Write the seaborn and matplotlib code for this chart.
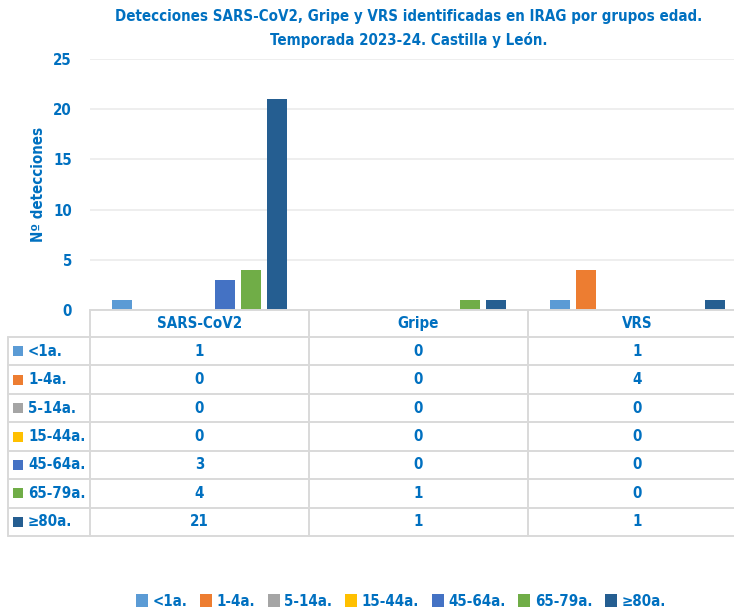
import matplotlib
matplotlib.use("Agg")
import matplotlib.pyplot as plt
import matplotlib.transforms as mtransforms
from matplotlib.patches import Rectangle
import pandas as pd
import seaborn as sns

sns.set_style("white")
plt.rcParams['font.family'] = ['Liberation Sans Narrow', 'DejaVu Sans']
plt.rcParams['font.stretch'] = 'condensed'
plt.rcParams['font.weight'] = 'bold'

# datos
virus = ['SARS-CoV2', 'Gripe', 'VRS']
grupos = ['<1a.', '1-4a.', '5-14a.', '15-44a.', '45-64a.', '65-79a.', '≥80a.']
sars = [1, 0, 0, 0, 3, 4, 21]
gripe = [0, 0, 0, 0, 0, 1, 1]
vrs = [1, 4, 0, 0, 0, 0, 1]
colores = ['#5B9BD5', '#ED7D31', '#A5A5A5', '#FFC000', '#4472C4', '#70AD47', '#255E91']

azul = '#0070C0'
gris = '#D9D9D9'
fs = 10.8

filas = []
for v, vals in zip(virus, [sars, gripe, vrs]):
    for g, n in zip(grupos, vals):
        filas.append({'virus': v, 'grupo': g, 'n': n})
df = pd.DataFrame(filas)

W, H = 734, 612
fig = plt.figure(figsize=(W / 100, H / 100), dpi=100)
ax = fig.add_axes([90 / W, 1 - 310 / H, (747 - 90) / W, (310 - 59) / H])

sns.barplot(data=df, x='virus', y='n', hue='grupo', order=virus, hue_order=grupos,
            palette=colores, saturation=1, width=0.83, gap=0.23, ax=ax, legend=False,
            edgecolor='none')

ax.set_ylim(0, 25)
ax.set_xlim(-0.5, 2.5)
ax.set_yticks(range(0, 26, 5))
ax.yaxis.grid(True, color='#EBEBEB', lw=1.2)
ax.set_axisbelow(True)
for s in ax.spines.values():
    s.set_visible(False)
ax.tick_params(axis='y', length=0, pad=13, labelsize=fs, labelcolor=azul)
ax.set_xticks([])
ax.set_xlabel('')
ax.set_ylabel('Nº detecciones', color=azul, fontsize=fs, fontweight='bold', labelpad=5)

fig.text(409 / W, 1 - 17 / H, 'Detecciones SARS-CoV2, Gripe y VRS identificadas en IRAG por grupos edad.',
         ha='center', va='center', color=azul, fontsize=fs, fontweight='bold')
fig.text(409 / W, 1 - 40 / H, 'Temporada 2023-24. Castilla y León.',
         ha='center', va='center', color=azul, fontsize=fs, fontweight='bold')

# tabla de datos
tr = mtransforms.blended_transform_factory(ax.transData, fig.transFigure)
x_left = ax.transData.inverted().transform(fig.transFigure.transform((8 / W, 0)))[0]


def fy(py):
    return 1 - py / H


y_head_top, y_head_bot = 310, 337
row_h = (536 - 337) / 7
lw = 1.4
# borde superior del encabezado
fig.add_artist(plt.Line2D([-0.5, 2.5], [fy(y_head_top)] * 2, transform=tr, color=gris, lw=lw, clip_on=False))
for i in range(8):
    yy = y_head_bot + i * row_h
    fig.add_artist(plt.Line2D([x_left, 2.5], [fy(yy)] * 2, transform=tr, color=gris, lw=lw, clip_on=False))
for xv in [-0.5, 0.5, 1.5, 2.5]:
    fig.add_artist(plt.Line2D([xv, xv], [fy(y_head_top), fy(536)], transform=tr, color=gris, lw=lw, clip_on=False))
fig.add_artist(plt.Line2D([x_left, x_left], [fy(y_head_bot), fy(536)], transform=tr, color=gris, lw=lw, clip_on=False))

for j, v in enumerate(virus):
    fig.text(j, fy((y_head_top + y_head_bot) / 2), v, transform=tr, ha='center', va='center',
             color=azul, fontsize=fs, fontweight='bold')

for i, g in enumerate(grupos):
    yc = fy(y_head_bot + (i + 0.5) * row_h)
    fig.add_artist(Rectangle((13 / W, yc - 5 / H), 10 / W, 10 / H, transform=fig.transFigure,
                             facecolor=colores[i], edgecolor='none'))
    fig.text(28 / W, yc, g, ha='left', va='center', color=azul, fontsize=fs, fontweight='bold')
    for j, vals in enumerate([sars, gripe, vrs]):
        fig.text(j, yc, str(vals[i]), transform=tr, ha='center', va='center',
                 color=azul, fontsize=fs, fontweight='bold')

# leyenda inferior
handles = [Rectangle((0, 0), 1, 1, facecolor=c, edgecolor='none') for c in colores]
leg = fig.legend(handles, grupos, loc='center', bbox_to_anchor=(401 / W, 1 - 601 / H), ncol=7,
                 frameon=False, handlelength=0.8, handleheight=0.9, handletextpad=0.3,
                 columnspacing=0.85, fontsize=fs)
for t in leg.get_texts():
    t.set_color(azul)
    t.set_fontweight('bold')

fig.savefig('out.png', dpi=100)
